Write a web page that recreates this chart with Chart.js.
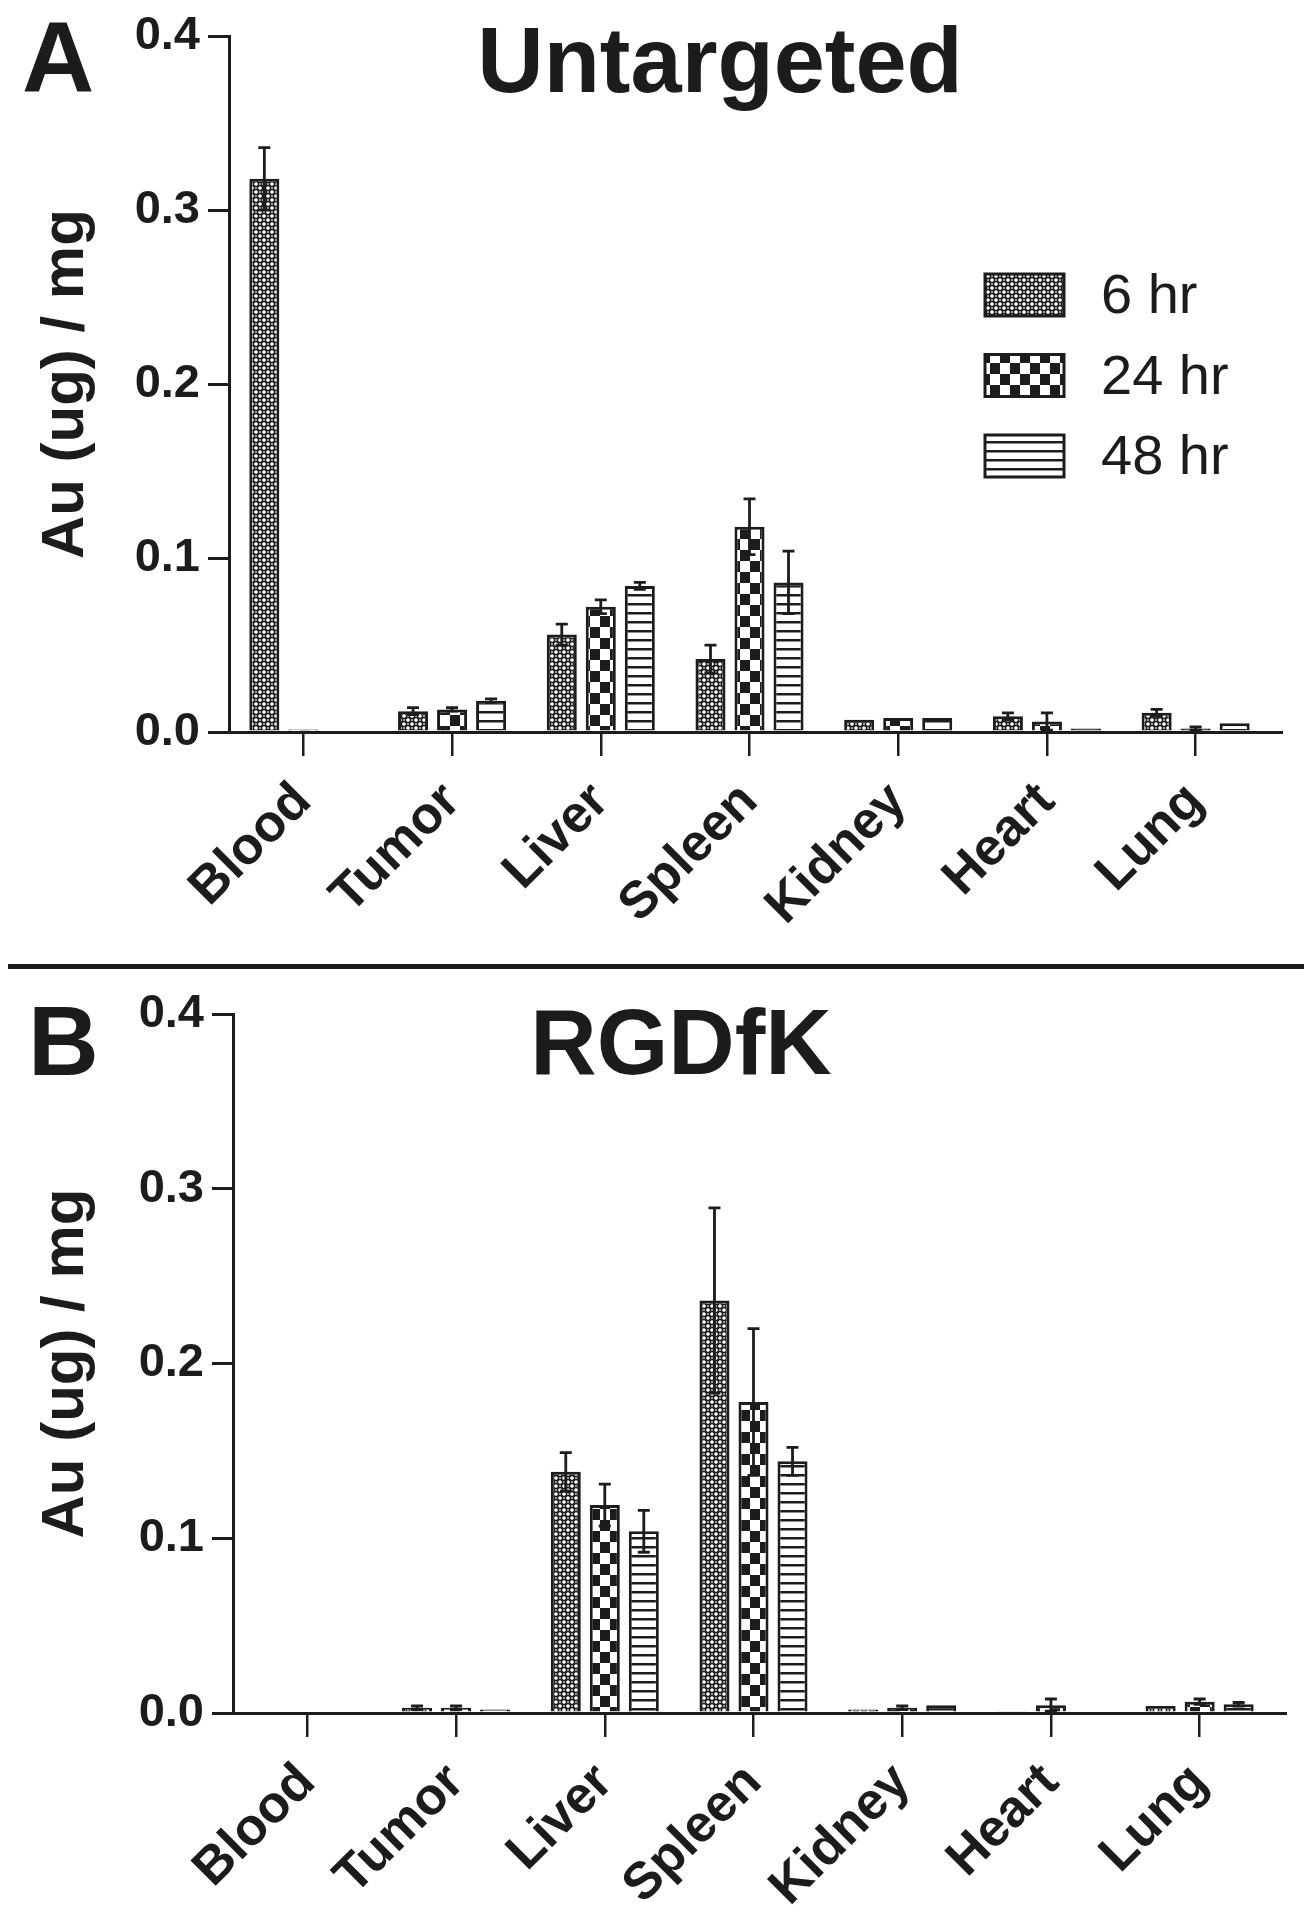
<!DOCTYPE html>
<html>
<head>
<meta charset="utf-8">
<script src="https://cdn.jsdelivr.net/npm/chart.js@4.4.0/dist/chart.umd.min.js"></script>
<style>
  html, body { margin: 0; padding: 0; background: #fff; }
  body { width: 1312px; height: 1920px; position: relative; overflow: hidden;
         font-family: "Liberation Sans", Arial, sans-serif; color: #1c1c1c; }
  .lbl { position: absolute; font-weight: bold; line-height: 1; white-space: nowrap; }
  #panelA { position: absolute; left: 0; top: 0; }
  #panelB { position: absolute; left: 0; top: 970px; }
  #sep { position: absolute; left: 8px; top: 964px; width: 1296px; height: 5px; background: #1c1c1c; }
</style>
</head>
<body>
<canvas id="panelA" width="1312" height="960"></canvas>
<div id="sep"></div>
<canvas id="panelB" width="1312" height="950"></canvas>
<div class="lbl" style="left:22px; top:7px; font-size:100px;">A</div>
<div class="lbl" style="left:720px; top:14px; font-size:92px; transform:translateX(-50%);">Untargeted</div>
<div class="lbl" style="left:28px; top:992px; font-size:98px;">B</div>
<div class="lbl" style="left:681px; top:996px; font-size:92px; transform:translateX(-50%);">RGDfK</div>
<script>
const organs = ["Blood", "Tumor", "Liver", "Spleen", "Kidney", "Heart", "Lung"];
const timepoints = ["6 hr", "24 hr", "48 hr"];
const yTicks = [0, 0.1, 0.2, 0.3, 0.4];
const yTitle = "Au (ug) / mg";

// A: Untargeted, mean and error per organ
const untargeted6h  = [0.318, 0.012, 0.056, 0.042, 0.007, 0.009, 0.011];
const untargeted24h = [0.0015, 0.013, 0.072, 0.118, 0.008, 0.006, 0.002];
const untargeted48h = [0.000, 0.018, 0.084, 0.086, 0.008, 0.002, 0.005];
const untargeted6hErr  = [0.018, 0.002, 0.006, 0.008, 0.000, 0.002, 0.002];
const untargeted24hErr = [0.000, 0.001, 0.004, 0.016, 0.000, 0.005, 0.001];
const untargeted48hErr = [0.000, 0.001, 0.002, 0.018, 0.000, 0.000, 0.000];

// B: RGDfK
const rgd6h  = [0.000, 0.003, 0.138, 0.236, 0.002, 0.001, 0.004];
const rgd24h = [0.000, 0.003, 0.119, 0.178, 0.003, 0.0045, 0.0065];
const rgd48h = [0.000, 0.002, 0.104, 0.144, 0.0045, 0.000, 0.005];
const rgd6hErr  = [0.000, 0.001, 0.011, 0.053, 0.000, 0.000, 0.000];
const rgd24hErr = [0.000, 0.001, 0.012, 0.042, 0.001, 0.0035, 0.0015];
const rgd48hErr = [0.000, 0.000, 0.012, 0.008, 0.000, 0.000, 0.001];

const ink = "#1c1c1c";
const FONT = '"Liberation Sans", Arial, sans-serif';

function makePattern(kind) {
  const c = document.createElement("canvas");
  const g = c.getContext("2d");
  if (kind === "dots") {
    c.width = 8; c.height = 8;
    g.fillStyle = "#fff"; g.fillRect(0, 0, 8, 8);
    g.strokeStyle = ink; g.lineWidth = 1.5;
    [[4, 4], [0, 0], [8, 0], [0, 8], [8, 8]].forEach(([x, y]) => {
      g.beginPath(); g.arc(x, y, 2.6, 0, Math.PI * 2); g.stroke();
    });
  } else if (kind === "checker") {
    c.width = 20; c.height = 22;
    g.fillStyle = "#fff"; g.fillRect(0, 0, 20, 22);
    g.fillStyle = ink;
    g.fillRect(0, 0, 10, 11);
    g.fillRect(10, 11, 10, 11);
  } else {
    c.width = 4; c.height = 9;
    g.fillStyle = "#fff"; g.fillRect(0, 0, 4, 9);
    g.fillStyle = ink; g.fillRect(0, 0, 4, 2.5);
  }
  return g.createPattern(c, "repeat");
}
const patterns = [makePattern("dots"), makePattern("checker"), makePattern("stripes")];

// error bars (mean +/- err) drawn on top of the bars
const errorBars = {
  id: "errorBars",
  afterDatasetsDraw(chart) {
    const ctx = chart.ctx, ys = chart.scales.y;
    chart.data.datasets.forEach((ds, di) => {
      chart.getDatasetMeta(di).data.forEach((bar, i) => {
        const e = ds.errors[i];
        if (!e) return;
        const v = ds.data[i];
        const top = ys.getPixelForValue(v + e);
        const low = v - e;
        const bot = ys.getPixelForValue(Math.max(low, 0));
        ctx.save();
        ctx.strokeStyle = ink;
        ctx.lineWidth = 2.8;
        ctx.beginPath();
        ctx.moveTo(bar.x, bot); ctx.lineTo(bar.x, top);
        ctx.moveTo(bar.x - 6, top); ctx.lineTo(bar.x + 6, top);
        if (low > 0) { ctx.moveTo(bar.x - 6, bot); ctx.lineTo(bar.x + 6, bot); }
        ctx.stroke();
        ctx.restore();
      });
    });
  },
  afterDraw(chart) {
    // the axis line runs a little past the last group
    const ctx = chart.ctx, a = chart.chartArea;
    ctx.save();
    ctx.strokeStyle = ink; ctx.lineWidth = 3;
    ctx.beginPath(); ctx.moveTo(a.right - 1, a.bottom + 0.5); ctx.lineTo(a.right + 13, a.bottom + 0.5); ctx.stroke();
    ctx.restore();
  }
};

const boxLegend = {
  id: "boxLegend",
  afterDraw(chart, args, opts) {
    if (!opts.show) return;
    const ctx = chart.ctx;
    chart.data.datasets.forEach((ds, i) => {
      const x = opts.x, y = opts.y + i * opts.step;
      ctx.save();
      ctx.fillStyle = ds.backgroundColor;
      ctx.fillRect(x, y, opts.w, opts.h);
      ctx.lineWidth = 3; ctx.strokeStyle = ink;
      ctx.strokeRect(x, y, opts.w, opts.h);
      ctx.fillStyle = ink;
      ctx.font = "56px " + FONT;
      ctx.textBaseline = "alphabetic";
      ctx.fillText(ds.label, x + opts.w + 37, y + 39);
      ctx.restore();
    });
  }
};

function makeChart(id, series, errs, area, showLegend) {
  const canvas = document.getElementById(id);
  const H = canvas.height;
  return new Chart(canvas, {
    type: "bar",
    data: {
      labels: organs,
      datasets: timepoints.map((t, k) => ({
        label: t,
        data: series[k],
        errors: errs[k],
        backgroundColor: patterns[k],
        borderColor: ink,
        borderWidth: 3,
        categoryPercentage: 0.787,
        barPercentage: 0.77
      }))
    },
    options: {
      responsive: false,
      animation: false,
      events: [],
      layout: { padding: { left: 0, top: area.top, right: 1312 - area.right, bottom: 0 } },
      plugins: {
        legend: { display: false },
        tooltip: { enabled: false },
        boxLegend: { show: showLegend, x: 985, y: 274, w: 79, h: 42, step: 80.5 }
      },
      scales: {
        x: {
          afterFit: s => { s.height = H - area.bottom; },
          grid: { offset: false, drawOnChartArea: false, tickLength: 24, lineWidth: 2.5, color: ink },
          border: { display: true, color: ink, width: 3 },
          ticks: {
            autoSkip: false, maxRotation: 45, minRotation: 45, padding: 15,
            color: ink, font: { family: FONT, size: 52, weight: "bold" }
          }
        },
        y: {
          min: 0, max: 0.4,
          afterFit: s => { s.width = area.left; },
          afterBuildTicks: s => { s.ticks = yTicks.map(v => ({ value: v })); },
          grid: { drawOnChartArea: false, tickLength: 21, lineWidth: 3, color: ink },
          border: { display: true, color: ink, width: 3 },
          ticks: {
            padding: 8, color: ink,
            font: { family: FONT, size: 47, weight: "bold" },
            callback: v => v.toFixed(1)
          },
          title: {
            display: true, text: yTitle, color: ink, padding: { top: 30, bottom: 0 },
            font: { family: FONT, size: 60, weight: "bold" }
          }
        }
      }
    },
    plugins: [errorBars, boxLegend]
  });
}

makeChart("panelA",
  [untargeted6h, untargeted24h, untargeted48h],
  [untargeted6hErr, untargeted24hErr, untargeted48hErr],
  { left: 229, right: 1270, top: 30, bottom: 732 }, true);

makeChart("panelB",
  [rgd6h, rgd24h, rgd48h],
  [rgd6hErr, rgd24hErr, rgd48hErr],
  { left: 233, right: 1274, top: 44, bottom: 743 }, false);
</script>
</body>
</html>
